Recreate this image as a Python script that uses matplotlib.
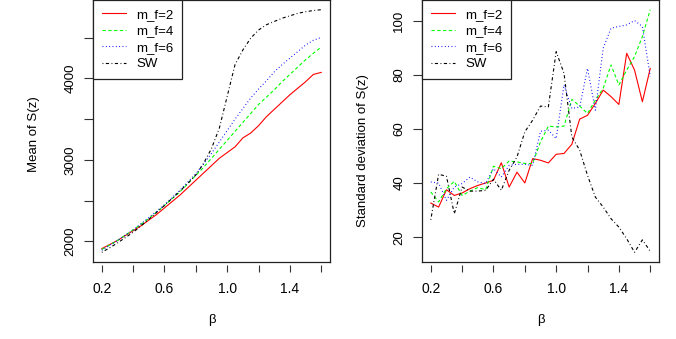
import matplotlib
matplotlib.use("Agg")
import matplotlib.pyplot as plt
from matplotlib.lines import Line2D

plt.rcParams['font.family'] = ['Liberation Sans', 'DejaVu Sans']

beta = [0.2, 0.25, 0.3, 0.35, 0.4, 0.45, 0.5, 0.55, 0.6, 0.65, 0.7, 0.75,
        0.8, 0.85, 0.9, 0.95, 1.0, 1.05, 1.1, 1.15, 1.2, 1.25, 1.3, 1.35,
        1.4, 1.45, 1.5, 1.55, 1.6]

series_names = ["m_f=2", "m_f=4", "m_f=6", "SW"]

mean_mf2 = [1910, 1960, 2010, 2070, 2130, 2190, 2260, 2330, 2410, 2490, 2570, 2660,
            2750, 2840, 2930, 3020, 3090, 3160, 3270, 3330, 3420, 3530, 3620, 3710,
            3800, 3880, 3960, 4050, 4075]
mean_mf4 = [1900, 1955, 2010, 2075, 2140, 2210, 2280, 2360, 2440, 2525, 2610, 2710,
            2810, 2910, 3020, 3130, 3240, 3350, 3460, 3570, 3680, 3770, 3860, 3960,
            4050, 4140, 4230, 4310, 4385]
mean_mf6 = [1890, 1950, 2010, 2075, 2140, 2215, 2290, 2370, 2450, 2540, 2630, 2730,
            2830, 2950, 3080, 3220, 3360, 3500, 3630, 3760, 3870, 3970, 4080, 4170,
            4250, 4330, 4410, 4470, 4505]
mean_sw = [1865, 1920, 1980, 2045, 2110, 2190, 2270, 2355, 2440, 2530, 2620, 2715,
           2815, 2960, 3140, 3390, 3780, 4170, 4350, 4495, 4595, 4660, 4700, 4740,
           4770, 4800, 4820, 4835, 4845]

sd_mf2 = [32.6, 31.1, 37.5, 35.4, 36.3, 37.9, 39.1, 40.0, 41.0, 47.5, 38.5, 44.0,
          40.0, 49.0, 48.4, 47.4, 50.6, 50.9, 54.3, 63.6, 65.0, 69.4, 74.3, 71.9,
          69.0, 87.9, 81.7, 70.0, 82.3]
sd_mf4 = [36.7, 33.0, 37.9, 40.6, 35.4, 37.0, 38.3, 37.5, 46.2, 45.3, 48.1, 47.8,
          47.2, 47.2, 55.2, 61.0, 60.7, 61.0, 70.9, 68.4, 65.7, 70.6, 75.0, 83.6,
          76.2, 81.7, 86.7, 94.1, 104.0]
sd_mf6 = [40.4, 40.0, 33.6, 38.5, 39.8, 42.2, 40.4, 39.8, 45.3, 42.2, 46.5, 46.9,
          46.9, 46.5, 59.1, 59.5, 56.4, 76.2, 67.5, 68.1, 82.3, 66.9, 89.8, 97.2,
          97.8, 98.4, 100.0, 97.8, 79.3]
sd_sw = [26.4, 43.2, 42.5, 28.6, 38.5, 37.0, 37.0, 37.3, 41.4, 37.3, 44.7, 49.6,
         58.9, 63.2, 68.4, 68.1, 88.5, 80.5, 57.0, 52.1, 42.8, 34.8, 31.1, 26.8,
         23.7, 19.4, 14.4, 19.0, 14.8]

x_ticks = [0.2, 0.4, 0.6, 0.8, 1.0, 1.2, 1.4, 1.6]
x_ticklabels = ["0.2", "", "0.6", "", "1.0", "", "1.4", ""]
mean_ticks = [2000, 2500, 3000, 3500, 4000, 4500]
mean_ticklabels = ["2000", "", "3000", "", "4000", ""]
sd_ticks = [20, 40, 60, 80, 100]
sd_ticklabels = ["20", "40", "60", "80", "100"]

colors = ["#FF0000", "#00FF00", "#0000FF", "#000000"]
styles = ["-", (0, (3.0, 2.2)), (0, (0.8, 2.2)), (0, (0.8, 2.2, 2.9, 2.2))]
FS = 9.5
LW = 0.8

W, H = 676, 339
fig = plt.figure(figsize=(W / 100, H / 100), dpi=100)


def rng(vals):
    lo, hi = min(vals), max(vals)
    d = (hi - lo) * 0.04
    return lo - d, hi + d


def make_axes(left_px, data_sets, yticks, yticklabels, ylabel, ylabel_y):
    ax = fig.add_axes([left_px / W, (H - 262) / H, 237 / W, 262 / H])
    for vals, c, ls, name in zip(data_sets, colors, styles, series_names):
        ax.plot(beta, vals, color=c, linestyle=ls, lw=LW, label=name)
    ax.set_xlim(*rng(beta))
    allv = [v for s in data_sets for v in s]
    ax.set_ylim(*rng(allv))
    ax.set_xticks(x_ticks)
    ax.set_xticklabels(x_ticklabels, fontsize=FS)
    ax.set_yticks(yticks)
    ax.set_yticklabels(yticklabels, fontsize=FS, rotation=90, va='center')
    ax.spines['bottom'].set_position(('outward', 2.2))
    ax.spines['bottom'].set_visible(False)
    for s in ['left', 'top', 'right']:
        ax.spines[s].set_linewidth(0.9)
        ax.spines[s].set_color('#222222')
    ax.add_line(Line2D([0, 1], [0, 0], transform=ax.transAxes, color='#222222',
                       lw=0.9, clip_on=False))
    ax.tick_params(axis='x', direction='out', length=5.0, width=0.8, pad=7.5,
                   color='#333333')
    ax.tick_params(axis='y', direction='out', length=6.5, width=0.8, pad=5.5,
                   color='#333333')
    leg = ax.legend(loc='upper left', fontsize=FS, frameon=True, fancybox=False,
                    edgecolor='#222222', framealpha=1, borderaxespad=0,
                    handlelength=1.85, handletextpad=0.75, labelspacing=0.32,
                    borderpad=0.66)
    leg.get_frame().set_linewidth(0.9)
    cx = (left_px + 237 / 2) / W
    fig.text(cx, 1 - 320 / H, "β", ha='center', va='center', fontsize=FS)
    fig.text((left_px - 59) / W, 1 - ylabel_y / H, ylabel, rotation=90,
             ha='center', va='center', fontsize=FS)
    return ax


make_axes(93, [mean_mf2, mean_mf4, mean_mf6, mean_sw], mean_ticks,
          mean_ticklabels, "Mean of S(z)", 134)
make_axes(422, [sd_mf2, sd_mf4, sd_mf6, sd_sw], sd_ticks, sd_ticklabels,
          "Standard deviation of S(z)", 151)

fig.savefig("out.png", dpi=100)
